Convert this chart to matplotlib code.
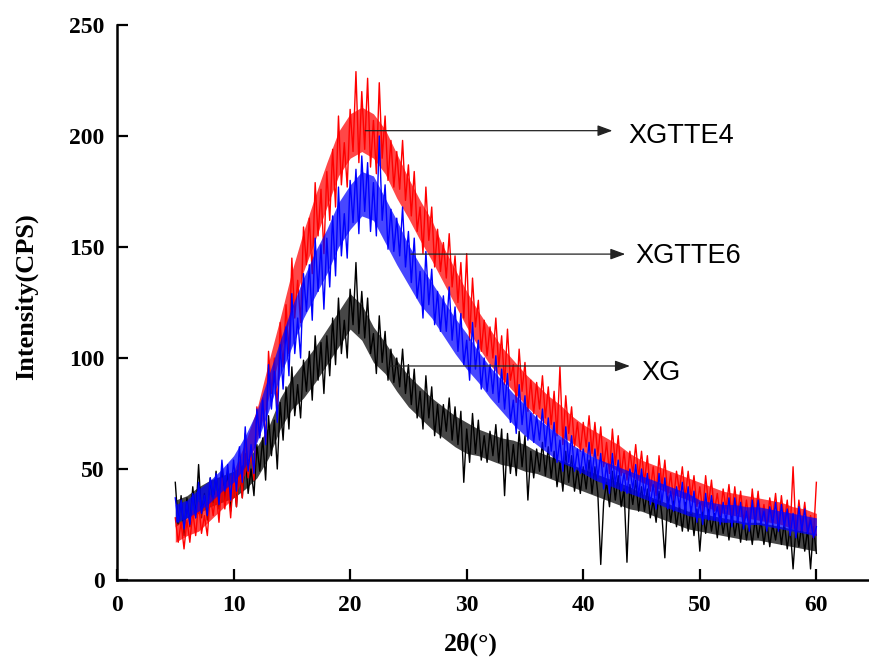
import numpy as np
import matplotlib
matplotlib.use("Agg")
import matplotlib.pyplot as plt

plt.rcParams['font.family'] = ['Liberation Serif', 'DejaVu Serif']
plt.rcParams['font.weight'] = 'bold'

# intensity, 4 readings per degree from 5 to 60 (2theta)
xg = [
    44, 25, 38, 20,   37, 24, 42, 28,   52, 28, 39, 27,   46, 35, 49, 32,
    51, 36, 49, 31,   47, 33, 53, 37,   57, 39, 50, 38,   61, 49, 64, 45,
    74, 56, 72, 50,   80, 63, 87, 68,   96, 74, 88, 73,   99, 85, 103, 81,
    110, 90, 107, 84, 110, 92, 118, 97, 127, 102, 117, 100, 131, 115, 143, 111,
    130, 109, 127, 102, 111, 93, 119, 98, 112, 90, 104, 89, 100, 87, 104, 84,
    97, 79, 95, 73,   85, 68, 92, 73,   87, 65, 79, 64,   79, 67, 82, 63,
    78, 61, 76, 44,   68, 53, 75, 57,   72, 54, 65, 53,   67, 56, 70, 53,
    68, 38, 66, 48,   61, 47, 67, 51,   65, 36, 58, 46,   59, 49, 62, 47,
    60, 46, 58, 42,   53, 40, 58, 44,   56, 40, 50, 39,   51, 41, 54, 39,
    51, 39, 7, 35,    44, 33, 49, 36,   47, 33, 41, 8,    43, 34, 45, 31,
    42, 31, 41, 28,   36, 26, 40, 29,   10, 38, 26, 36,   24, 34, 22, 35,
    22, 33, 20, 32,   13, 31, 21, 32,   22, 30, 19, 31,   21, 29, 18, 30,
    20, 28, 17, 29,   18, 26, 16, 28,   19, 27, 16, 26,   15, 25, 18, 27,
    16, 26, 14, 24,   5, 24, 15, 25,    13, 23, 5, 24,
    12,
]

xgtte4 = [
    28, 17, 26, 14,   27, 17, 31, 20,   35, 21, 29, 20,   38, 29, 40, 26,
    46, 32, 44, 28,   47, 33, 53, 37,   66, 46, 58, 45,   78, 65, 82, 62,
    103, 84, 100, 77, 116, 96, 124, 102, 145, 118, 135, 116, 159, 142, 163, 138,
    179, 155, 176, 147, 184, 162, 194, 168, 209, 178, 197, 177, 212, 193, 229, 188,
    220, 194, 226, 186, 207, 183, 224, 190, 209, 180, 198, 177, 193, 176, 198, 171,
    187, 164, 184, 157, 168, 147, 177, 153, 168, 141, 158, 139, 152, 136, 156, 132,
    146, 125, 143, 118, 147, 108, 136, 114, 126, 103, 117, 101, 114, 100, 118, 96,
    110, 88, 113, 90,  97, 80, 104, 85,  98, 76, 90, 75,   89, 77, 92, 73,
    87, 70, 85, 65,   96, 61, 83, 66,   78, 60, 71, 58,   71, 60, 74, 57,
    71, 56, 69, 51,   62, 48, 68, 52,   65, 47, 58, 45,   58, 48, 61, 46,
    58, 44, 56, 40,   51, 38, 56, 42,   54, 38, 48, 36,   49, 40, 51, 37,
    49, 37, 47, 33,   42, 31, 47, 34,   45, 31, 39, 29,   41, 32, 43, 29,
    42, 30, 40, 26,   36, 25, 41, 28,   40, 26, 34, 24,   37, 28, 39, 25,
    38, 26, 36, 22,   51, 21, 36, 24,   35, 22, 29, 19,
    44,
]

xgtte6 = [
    37, 26, 36, 23,   35, 25, 39, 28,   44, 30, 38, 29,   46, 37, 48, 34,
    54, 40, 52, 36,   54, 40, 60, 44,   69, 49, 61, 48,   77, 64, 81, 61,
    97, 77, 94, 71,   106, 86, 114, 92, 129, 102, 118, 100, 138, 121, 142, 117,
    154, 130, 151, 122, 154, 132, 164, 137, 177, 146, 165, 145, 180, 161, 185, 156,
    191, 166, 188, 157, 179, 155, 200, 162, 178, 149, 167, 148, 163, 146, 168, 141,
    157, 134, 154, 127, 139, 118, 148, 124, 140, 115, 130, 112, 128, 112, 132, 108,
    123, 103, 120, 97, 108, 90, 116, 95,  108, 86, 100, 85,  97, 84, 101, 80,
    95, 77, 93, 71,   81, 66, 88, 70,   83, 63, 75, 62,   74, 63, 77, 60,
    73, 58, 71, 53,   63, 49, 69, 53,   65, 49, 59, 48,   59, 49, 62, 47,
    59, 46, 57, 41,   52, 39, 57, 43,   54, 40, 48, 39,   50, 41, 52, 38,
    50, 38, 48, 34,   43, 32, 48, 35,   46, 32, 40, 31,   42, 33, 44, 30,
    42, 30, 40, 26,   35, 25, 39, 27,   38, 27, 33, 25,   35, 26, 37, 24,
    37, 26, 35, 23,   31, 22, 36, 25,   36, 25, 31, 22,   33, 25, 35, 22,
    34, 24, 32, 20,   30, 19, 33, 22,   32, 21, 27, 19,
    24,
]

# where the noise is densest, one reading per degree 5..60 (low / high edge)
xg_lo = [24, 28, 30, 33, 35, 37, 41, 46, 55, 68, 77, 82, 89, 97, 105, 113, 108, 98, 93, 85,
         78, 73, 68, 64, 60, 57, 56, 54, 52, 51, 49, 48, 46, 44, 42, 40, 38, 36, 34, 32,
         31, 29, 27, 25, 23, 22, 21, 20, 19, 18, 18, 17, 16, 15, 14, 13]
xg_hi = [36, 38, 42, 45, 47, 49, 53, 60, 69, 82, 91, 98, 105, 113, 121, 129, 124, 114, 107, 99,
         92, 87, 82, 78, 74, 71, 68, 66, 64, 63, 61, 58, 56, 54, 52, 50, 48, 46, 44, 42,
         39, 37, 35, 33, 31, 30, 29, 28, 27, 26, 26, 25, 24, 23, 22, 21]
xgtte4_lo = [17, 20, 22, 27, 32, 37, 48, 63, 82, 102, 121, 139, 153, 168, 182, 190, 193, 190, 183, 172,
             163, 153, 144, 134, 124, 114, 105, 97, 91, 85, 79, 74, 69, 65, 62, 58, 55, 52, 49, 47,
             44, 42, 40, 38, 36, 34, 32, 30, 29, 28, 27, 26, 25, 23, 22, 20]
xgtte4_hi = [25, 28, 32, 37, 42, 49, 62, 77, 98, 118, 139, 157, 173, 188, 202, 210, 213, 210, 203, 192,
             181, 171, 162, 150, 140, 130, 121, 113, 105, 99, 93, 88, 83, 79, 74, 70, 67, 64, 61, 57,
             54, 52, 50, 48, 46, 44, 42, 40, 39, 38, 37, 36, 35, 33, 32, 30]
xgtte6_lo = [26, 28, 31, 35, 40, 44, 51, 62, 76, 92, 105, 118, 128, 138, 150, 158, 164, 162, 152, 142,
             133, 124, 118, 110, 102, 95, 89, 82, 76, 70, 65, 61, 57, 53, 51, 48, 45, 43, 41, 39,
             37, 35, 33, 31, 29, 28, 27, 26, 26, 25, 25, 24, 23, 22, 21, 20]
xgtte6_hi = [34, 36, 41, 45, 50, 56, 65, 76, 92, 108, 123, 136, 148, 158, 170, 178, 184, 182, 172, 162,
             151, 142, 134, 126, 118, 111, 103, 96, 90, 84, 79, 73, 69, 65, 61, 58, 55, 53, 51, 49,
             47, 45, 43, 41, 39, 36, 35, 34, 34, 33, 33, 32, 31, 30, 29, 28]
core_theta = list(range(5, 61))

labels = ['XGTTE4', 'XGTTE6', 'XG']
arrow_y = [202.4, 146.8, 96.4]
arrow_start = [21.3, 25.2, 23.4]
arrow_end = [42.5, 43.6, 44.0]
label_x = [43.9, 44.5, 45.0]
label_base = [196.7, 142.6, 90.1]

fig = plt.figure(figsize=(8.7, 6.64), dpi=100)
ax = fig.add_axes([117 / 870, 84 / 664, 753 / 870, 555 / 664])

series = [
    (xg, xg_lo, xg_hi, 'black', 2),
    (xgtte4, xgtte4_lo, xgtte4_hi, '#ff0000', 3),
    (xgtte6, xgtte6_lo, xgtte6_hi, '#0000ff', 4),
]
for y, lo, hi, col, z in series:
    ax.fill_between(core_theta, lo, hi, color=col, lw=0, alpha=0.72, zorder=z)
    ax.plot(np.linspace(5, 60, len(y)), y, color=col, lw=1.0, zorder=z)

for lab, y, x0, x1, tx, ty in zip(labels, arrow_y, arrow_start, arrow_end, label_x, label_base):
    ax.annotate('', xy=(x1, y), xytext=(x0, y),
                arrowprops=dict(arrowstyle='-|>,head_length=0.6,head_width=0.22',
                                color='#222222', lw=0.9, shrinkA=0, shrinkB=0,
                                mutation_scale=15), zorder=6)
    ax.text(tx, ty, lab, fontsize=19.5, fontweight='normal', family='Liberation Sans',
            ha='left', va='baseline', zorder=6)

ax.set_xlim(0, 64.6)
ax.set_ylim(0, 250)
ax.set_xticks([0, 10, 20, 30, 40, 50, 60])
ax.set_yticks([0, 50, 100, 150, 200, 250])

ax.spines['top'].set_visible(False)
ax.spines['right'].set_visible(False)
for s in ['left', 'bottom']:
    ax.spines[s].set_linewidth(1.8)

ax.tick_params(direction='in', length=8, width=1.6, labelsize=17)
ax.tick_params(axis='x', pad=11)
ax.tick_params(axis='y', pad=9)

ax.set_xlabel('2θ(°)', fontsize=18.5, fontweight='bold')
ax.set_ylabel('Intensity(CPS)', fontsize=19, fontweight='bold')
ax.xaxis.set_label_coords(0.470, -0.0955)
ax.yaxis.set_label_coords(-0.105, 0.51)

fig.savefig('out.png', dpi=100)
